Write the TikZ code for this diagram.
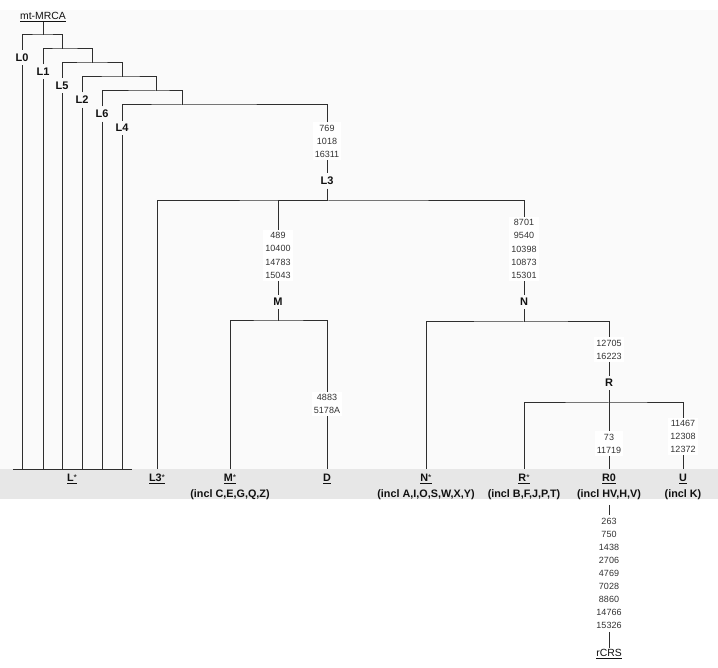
\documentclass[tikz,border=0pt]{standalone}
\usepackage{fontspec}
\setmainfont{Liberation Sans}
\definecolor{linec}{HTML}{2E2E2E}
\definecolor{numc}{HTML}{333333}
\definecolor{txtc}{HTML}{111111}
\definecolor{bgc}{HTML}{FAFAFA}
\definecolor{bandc}{HTML}{E7E7E7}
\newcommand\smallstar{\raisebox{0.6pt}{\fontsize{8.5}{9}\selectfont\mdseries *}}
\begin{document}
\begin{tikzpicture}[x=1pt,y=-1pt,
  edge/.style={draw=linec,line width=1pt},
  nums/.style={font=\fontsize{9}{13.1}\selectfont,align=center,fill=white,text=numc,inner xsep=2pt,inner ysep=2.5pt},
  lab/.style={font=\fontsize{11}{13}\selectfont\bfseries,inner xsep=1pt,inner ysep=3.5pt,text=txtc},
  leaf/.style={font=\fontsize{10.8}{16}\selectfont\bfseries,align=center,anchor=north,inner ysep=4.8pt,inner xsep=1pt,text=txtc},
  ul/.style={font=\fontsize{10.4}{12}\selectfont,anchor=base,inner ysep=0.8pt,text=txtc}]
\useasboundingbox (0,0) rectangle (718,668);
\fill[white] (0,0) rectangle (718,668);
\fill[bgc] (0,10) rectangle (718,469);
\fill[bandc] (0,469) rectangle (718,499);

% labels
\node[ul] (mrca) at (43,19.4) {\underline{mt-MRCA}};
\node[lab] (L0) at (22,57.5) {L0};
\node[lab] (L1) at (43,71.5) {L1};
\node[lab] (L5) at (62,85.5) {L5};
\node[lab] (L2) at (82,100) {L2};
\node[lab] (L6) at (102,114) {L6};
\node[lab] (L4) at (122,128) {L4};
\node[nums] (n3) at (327,141.2) {769\\1018\\16311};
\node[lab] (L3) at (327,181) {L3};
\node[nums] (nM) at (278,255.4) {489\\10400\\14783\\15043};
\node[lab] (M) at (278,302) {M};
\node[nums] (nN) at (524,249) {8701\\9540\\10398\\10873\\15301};
\node[lab] (N) at (524,302) {N};
\node[nums] (nD) at (327,404) {4883\\5178A};
\node[nums] (nR) at (609,349.5) {12705\\16223};
\node[lab] (R) at (609,383) {R};
\node[nums] (nR0) at (609,443.5) {73\\11719};
\node[nums] (nU) at (683,436.5) {11467\\12308\\12372};

% leaves
\node[leaf] (Lst) at (72,469) {\underline{L\smallstar}};
\node[leaf] (L3st) at (157,469) {\underline{L3\smallstar}};
\node[leaf] (Mst) at (230,469) {\underline{M\smallstar}\\(incl C,E,G,Q,Z)};
\node[leaf] (D) at (327,469) {\underline{D}};
\node[leaf] (Nst) at (426,469) {\underline{N\smallstar}\\(incl A,I,O,S,W,X,Y)};
\node[leaf] (Rst) at (524,469) {\underline{R\smallstar}\\(incl B,F,J,P,T)};
\node[leaf] (R0) at (609,469) {\underline{R0}\\(incl HV,H,V)};
\node[leaf] (U) at (683,469) {\underline{U}\\(incl K)};
\node[nums] (nR0b) at (609,573.5) {263\\750\\1438\\2706\\4769\\7028\\8860\\14766\\15326};
\node[ul] (rcrs) at (609,656.7) {\underline{rCRS}};

% junctions
\coordinate (j0) at (43,35);
\coordinate (j1) at (62,49);
\coordinate (j2) at (92,63);
\coordinate (j3) at (122,77);
\coordinate (j4) at (156,91);
\coordinate (j5) at (182,105);
\coordinate (j6) at (327,201);
\coordinate (j7) at (278,321);
\coordinate (j8) at (524,322);
\coordinate (j9) at (609,403);
\coordinate (bl) at (13,469);
\coordinate (br) at (132,469);

% edges
\draw[edge] (mrca) -- (j0);
\draw[edge] (L0) |- (j0) -| (j1);
\draw[edge] (L1) |- (j1) -| (j2);
\draw[edge] (L5) |- (j2) -| (j3);
\draw[edge] (L2) |- (j3) -| (j4);
\draw[edge] (L6) |- (j4) -| (j5);
\draw[edge] (L4) |- (j5) -| (n3);
\draw[edge] (bl) -- (br);
\foreach \n in {L0,L1,L5,L2,L6,L4} \draw[edge] (\n) -- (\n |- bl);
\draw[edge] (n3) -- (L3);
\draw[edge] (L3) -- (j6);
\draw[edge] (L3st) |- (j6) -| (nN);
\draw[edge] (j6) -| (nM);
\draw[edge] (nM) -- (M);
\draw[edge] (M) -- (j7);
\draw[edge] (Mst) |- (j7) -| (nD);
\draw[edge] (nD) -- (D);
\draw[edge] (nN) -- (N);
\draw[edge] (N) -- (j8);
\draw[edge] (Nst) |- (j8) -| (nR);
\draw[edge] (nR) -- (R);
\draw[edge] (R) -- (nR0);
\draw[edge] (Rst) |- (j9) -| (nU);
\draw[edge] (nR0) -- (R0);
\draw[edge] (nU) -- (U);
\draw[edge] (R0) -- (nR0b);
\draw[edge] (nR0b) -- (rcrs);
\end{tikzpicture}
\end{document}
